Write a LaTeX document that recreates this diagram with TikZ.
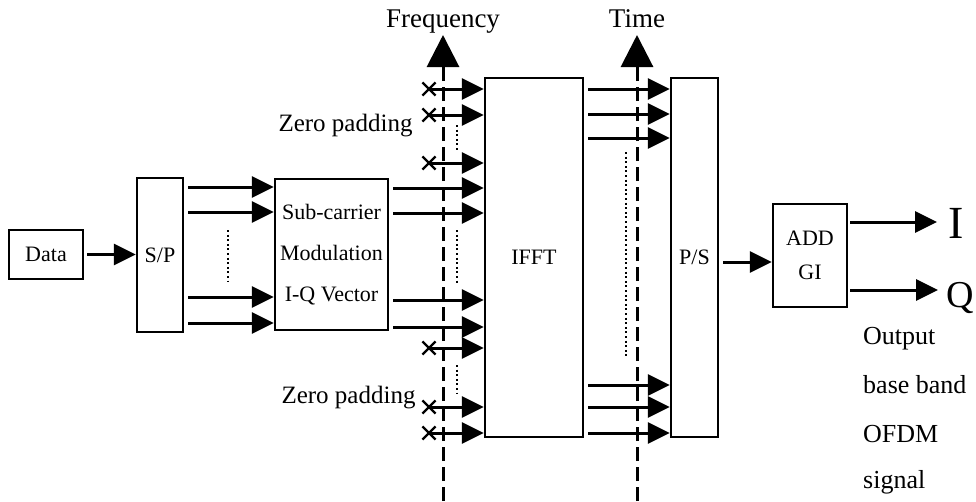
\documentclass[tikz,border=0pt]{standalone}
\usepackage{fontspec}
\setmainfont{Liberation Serif}
\usetikzlibrary{arrows.meta,shapes.misc}

\begin{document}
\begin{tikzpicture}[x=1pt,y=-1pt,>={Triangle[length=22pt,width=21pt]},
  block/.style={draw,line width=2.5pt,inner sep=0pt,align=center,font=\fontsize{22}{34}\selectfont},
  carrier/.style={->,line width=3pt,shorten <=4pt},
  axisline/.style={-{Triangle[length=32pt,width=32pt]},line width=3pt,dash pattern=on 14pt off 6pt},
  gapline/.style={line width=2.5pt,dash pattern=on 2pt off 2.6pt},
  zeromark/.style={cross out,draw,line width=2.2pt,minimum size=11pt,inner sep=0pt},
  lbl/.style={font=\fontsize{25}{30}\selectfont}]
\useasboundingbox (0,0) rectangle (976,501);

% frequency and time axes
\coordinate (fbot) at (443,501);
\coordinate (ftop) at (443,35);
\coordinate (tbot) at (637,501);
\coordinate (ttop) at (637,35);
\draw[axisline] (fbot) -- (ftop);
\draw[axisline] (tbot) -- (ttop);
\node[lbl,anchor=base,font=\fontsize{27}{30}\selectfont] (freq) at (443,27) {Frequency};
\node[lbl,anchor=base,font=\fontsize{27}{30}\selectfont] (time) at (637,27) {Time};

% blocks
\node[block,minimum width=74pt,minimum height=49pt] (data) at (46,254.5) {Data};
\node[block,minimum width=46pt,minimum height=154pt] (sp) at (160,255) {S/P};
\node[block,minimum width=113pt,minimum height=151pt,font=\fontsize{22}{41}\selectfont] (sc) at (331.5,254.5) {Sub-carrier\\Modulation\\I-Q Vector};
\node[block,minimum width=98pt,minimum height=359pt] (ifft) at (534,257.5) {IFFT};
\node[block,minimum width=47pt,minimum height=359pt] (ps) at (694.5,257.5) {P/S};
\node[block,minimum width=74pt,minimum height=103pt] (gi) at (810,255.5) {ADD\\GI};

% labels
\node[lbl,anchor=base west] (zp1) at (275,131) {Zero padding};
\node[lbl,anchor=base west] (zp2) at (278,403) {Zero padding};
\node[anchor=base west,inner sep=0pt,font=\fontsize{46}{50}\selectfont] (iout) at (948,238) {I};
\node[anchor=base west,inner sep=0pt,font=\fontsize{38}{40}\selectfont] (qout) at (946,307) {Q};
\foreach \t/\y [count=\i] in {Output/344,base band/393,OFDM/442,signal/488}
  \node[lbl,anchor=base west,inner sep=0pt,font=\fontsize{26}{30}\selectfont] (out\i) at (863,\y) {\t};

% connectors
\draw[carrier,shorten <=3pt] (data.east) -- (data.east -| sp.west);
\foreach \y in {187,212,297,323}
  \draw[carrier] (sp.east |- 0,\y) -- (sc.west |- 0,\y);
\foreach \y in {188,213,300,327}
  \draw[carrier] (sc.east |- 0,\y) -- (ifft.west |- 0,\y);
\foreach \y [count=\i] in {89,115,163,348,407,433} {
  \node[zeromark] (z\i) at (429,\y) {};
  \draw[carrier,shorten <=0pt] (z\i.center) -- (ifft.west |- z\i);
}
\foreach \y in {89,114,138,385,407,433}
  \draw[carrier] (ifft.east |- 0,\y) -- (ps.west |- 0,\y);
\draw[carrier] (ps.east |- 0,262) -- (gi.west |- 0,262);
\draw[carrier,shorten <=2pt,shorten >=11pt] (gi.east |- 0,222) -- (iout.west |- 0,222);
\draw[carrier,shorten <=2pt,shorten >=8pt] (gi.east |- 0,290) -- (qout.west |- 0,290);

% omitted carriers
\draw[gapline] (228,230) -- (228,282);
\draw[gapline] (457,125) -- (457,152);
\draw[gapline] (457,230) -- (457,285);
\draw[gapline] (457,365) -- (457,393);
\draw[gapline] (626,152) -- (626,358);
\end{tikzpicture}
\end{document}
